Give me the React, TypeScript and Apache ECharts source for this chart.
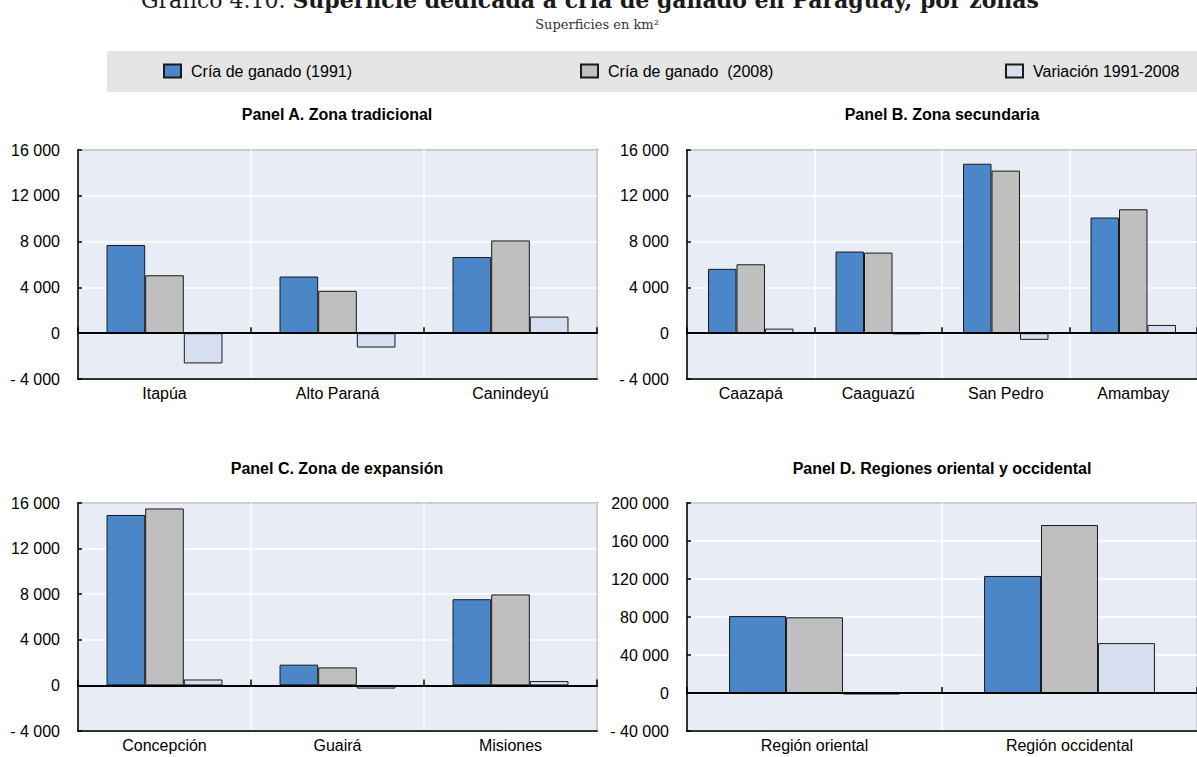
import React, { useEffect, useRef } from "react";
import * as echarts from "echarts";

// Panel A. Zona tradicional
const categoriesA = ["Itapúa", "Alto Paraná", "Canindeyú"];
const cria1991A = [7700, 4950, 6650];
const cria2008A = [5060, 3700, 8100];
const variacionA = [-2640, -1250, 1450];

// Panel B. Zona secundaria
const categoriesB = ["Caazapá", "Caaguazú", "San Pedro", "Amambay"];
const cria1991B = [5620, 7130, 14800, 10100];
const cria2008B = [6020, 7040, 14200, 10820];
const variacionB = [400, -90, -580, 720];

// Panel C. Zona de expansión
const categoriesC = ["Concepción", "Guairá", "Misiones"];
const cria1991C = [14950, 1820, 7560];
const cria2008C = [15520, 1580, 7980];
const variacionC = [520, -280, 380];

// Panel D. Regiones oriental y occidental
const categoriesD = ["Región oriental", "Región occidental"];
const cria1991D = [81000, 123200];
const cria2008D = [79700, 176800];
const variacionD = [-1600, 52500];

const seriesNames = ["Cría de ganado (1991)", "Cría de ganado  (2008)", "Variación 1991-2008"];
const panelTitles = [
  "Panel A. Zona tradicional",
  "Panel B. Zona secundaria",
  "Panel C. Zona de expansión",
  "Panel D. Regiones oriental y occidental",
];

const SANS = '"Liberation Sans", Arial, sans-serif';
const SERIF = '"DejaVu Serif", "Liberation Serif", serif';
const COLORS = ["#4a86c8", "#bfbfbf", "#d6dff0"];

const fmt = (v: number) => {
  const s = Math.abs(v).toString().replace(/\B(?=(\d{3})+(?!\d))/g, " ");
  return v < 0 ? "- " + s : s;
};

const panels = [
  { cats: categoriesA, data: [cria1991A, cria2008A, variacionA], min: -4000, max: 16000, step: 4000,
    grid: { left: 78, top: 150, width: 519, height: 229 }, titleX: 337, titleY: 106 },
  { cats: categoriesB, data: [cria1991B, cria2008B, variacionB], min: -4000, max: 16000, step: 4000,
    grid: { left: 687, top: 150, width: 521, height: 229 }, titleX: 942, titleY: 106 },
  { cats: categoriesC, data: [cria1991C, cria2008C, variacionC], min: -4000, max: 16000, step: 4000,
    grid: { left: 78, top: 503, width: 519, height: 228 }, titleX: 337, titleY: 460 },
  { cats: categoriesD, data: [cria1991D, cria2008D, variacionD], min: -40000, max: 200000, step: 40000,
    grid: { left: 687, top: 503, width: 521, height: 228 }, titleX: 942, titleY: 460 },
];

export default function App() {
  const ref = useRef<HTMLDivElement>(null);

  useEffect(() => {
    if (!ref.current) return;
    const chart = echarts.init(ref.current, undefined, { renderer: "svg" });

    const grids: any[] = [];
    const xAxes: any[] = [];
    const yAxes: any[] = [];
    const series: any[] = [];
    const titles: any[] = [
      {
        text: "{r|Gráfico 4.10. }{b|Superficie dedicada a cría de ganado en Paraguay, por zonas}",
        left: 590,
        top: -11,
        textAlign: "center",
        padding: 0,
        textStyle: {
          fontWeight: "normal",
          rich: {
            r: { fontFamily: SERIF, fontSize: 22, fontWeight: "normal", color: "#1a1a1a" },
            b: { fontFamily: SERIF, fontSize: 22, fontWeight: "bold", color: "#1a1a1a" },
          },
        },
      },
      {
        text: "Superficies en km²",
        left: 597,
        top: 18,
        textAlign: "center",
        padding: 0,
        textStyle: { fontFamily: SERIF, fontSize: 13, fontWeight: "normal", color: "#333333" },
      },
    ];

    panels.forEach((p, i) => {
      grids.push({
        ...p.grid,
        show: true,
        backgroundColor: "#e8ecf5",
        borderColor: "#000",
        borderWidth: 1.5,
        containLabel: false,
      });
      // category axis at the bottom: labels and vertical separators
      xAxes.push({
        type: "category",
        gridIndex: i,
        data: p.cats,
        position: "bottom",
        axisLine: { show: true, onZero: false, lineStyle: { color: "#000", width: 1.5 } },
        axisTick: { show: false },
        axisLabel: { color: "#000", fontFamily: SANS, fontSize: 16, margin: 6 },
        splitLine: { show: true, lineStyle: { color: "#ffffff", width: 1.5 } },
      });
      // zero line with small boundary ticks
      xAxes.push({
        type: "category",
        gridIndex: i,
        data: p.cats,
        position: "bottom",
        z: 5,
        axisLine: { show: true, onZero: true, lineStyle: { color: "#000", width: 1.8 } },
        axisTick: { show: true, inside: true, length: 6, lineStyle: { color: "#000", width: 1.5 } },
        axisLabel: { show: false },
        splitLine: { show: false },
      });
      yAxes.push({
        type: "value",
        gridIndex: i,
        min: p.min,
        max: p.max,
        interval: p.step,
        axisLine: { show: true, onZero: false, lineStyle: { color: "#000", width: 1.5 } },
        axisTick: { show: true, inside: true, length: 4, lineStyle: { color: "#000", width: 1.5 } },
        axisLabel: { color: "#000", fontFamily: SANS, fontSize: 16, margin: 18, formatter: fmt },
        splitLine: { show: true, lineStyle: { color: "#ffffff", width: 1.5 } },
      });
      p.data.forEach((vals, k) => {
        series.push({
          type: "bar",
          name: seriesNames[k],
          xAxisIndex: i * 2,
          yAxisIndex: i,
          data: vals,
          barGap: "0%",
          barCategoryGap: "33%",
          itemStyle: { color: COLORS[k], borderColor: "#1a1a1a", borderWidth: 1 },
        });
      });
      titles.push({
        text: panelTitles[i],
        left: p.titleX,
        top: p.titleY,
        textAlign: "center",
        padding: 0,
        textStyle: { fontFamily: SANS, fontSize: 16, fontWeight: "bold", color: "#000" },
      });
    });

    const legendLefts = [163, 580, 1005];
    const legends = seriesNames.map((name, k) => ({
      data: [name],
      left: legendLefts[k],
      top: 63,
      padding: 0,
      itemWidth: 17,
      itemHeight: 13,
      selectedMode: false,
      icon: "rect",
      textStyle: { fontFamily: SANS, fontSize: 16, color: "#000", padding: [0, 0, 0, 5] },
    }));

    chart.setOption({
      animation: false,
      backgroundColor: "#ffffff",
      title: titles,
      legend: legends,
      graphic: [
        {
          type: "rect",
          z: -1,
          shape: { x: 107, y: 51, width: 1100, height: 41 },
          style: { fill: "#e5e5e5" },
        },
      ],
      grid: grids,
      xAxis: xAxes,
      yAxis: yAxes,
      series,
    });

    return () => chart.dispose();
  }, []);

  return (
    <div
      ref={ref}
      style={{ position: "fixed", left: 0, top: 0, width: 1197, height: 757, background: "#fff" }}
    />
  );
}
